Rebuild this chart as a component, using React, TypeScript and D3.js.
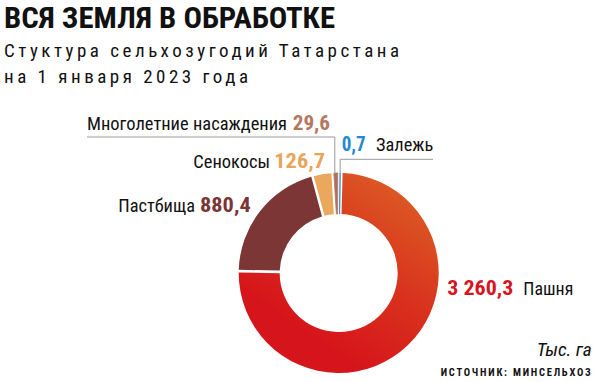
import React from "react";
import * as d3 from "d3";

const categories = ["Пашня", "Пастбища", "Сенокосы", "Многолетние насаждения", "Залежь"];
const values = [3260.3, 880.4, 126.7, 29.6, 0.7];
const valueLabels = ["3 260,3", "880,4", "126,7", "29,6", "0,7"];
const colors = ["url(#arableGrad)", "#7d3636", "#e9a85c", "#b0705a", "#2b8fd6"];
const labelColors = ["#d7141e", "#7b3534", "#e8a55a", "#b5775e", "#2589d2"];

const title = "ВСЯ ЗЕМЛЯ В ОБРАБОТКЕ";
const subtitle1 = "Стуктура сельхозугодий Татарстана";
const subtitle2 = "на 1 января 2023 года";
const unitLabel = "Тыс. га";
const sourceLabel = "ИСТОЧНИК: МИНСЕЛЬХОЗ";

const W = 595;
const H = 382;
const cx = 338.7;
const cy = 273;
const rOuter = 100;
const rInner = 59;
const FONT = "'Liberation Sans Narrow', 'Roboto Condensed', 'DejaVu Sans Condensed', 'Liberation Sans', sans-serif";

type LabelPos = { nameX: number; nameW: number; numX: number; numW: number; y: number };
const labelPos: LabelPos[] = [
  { numX: 447.3, numW: 66, nameX: 523.3, nameW: 50, y: 295 },
  { nameX: 118.3, nameW: 76.7, numX: 200, numW: 50.7, y: 211.7 },
  { nameX: 193.3, nameW: 76.7, numX: 274.3, numW: 50.7, y: 168.3 },
  { nameX: 87, nameW: 200, numX: 292.7, numW: 37.3, y: 130 },
  { numX: 341.7, numW: 24, nameX: 376, nameW: 57.3, y: 150.7 },
];

export default function App() {
  const startDeg = 1.5;
  const pie = d3
    .pie<number>()
    .sort(null)
    .value((d) => d)
    .startAngle((startDeg * Math.PI) / 180)
    .endAngle(((360 + startDeg) * Math.PI) / 180)
    .padAngle(0.022);
  const arcs = pie(values);
  const arcGen = d3.arc<d3.PieArcDatum<number>>().innerRadius(rInner).outerRadius(rOuter);

  const midAngle = (a: d3.PieArcDatum<number>) => (a.startAngle + a.endAngle) / 2;
  const outerPt = (a: d3.PieArcDatum<number>) => {
    const m = midAngle(a);
    return [cx + rOuter * Math.sin(m), cy - rOuter * Math.cos(m)];
  };

  const mnPt = outerPt(arcs[3]);
  const zlPt = outerPt(arcs[4]);

  return (
    <svg width={W} height={H} style={{ position: "absolute", left: 0, top: 0, background: "#fff" }}>
      <defs>
        <linearGradient id="arableGrad" x1="0.75" y1="0" x2="0.25" y2="0.75">
          <stop offset="0" stopColor="#dc5b24" />
          <stop offset="0.55" stopColor="#d8301d" />
          <stop offset="1" stopColor="#d6141b" />
        </linearGradient>
      </defs>

      <text x={4} y={28.3} fontFamily={FONT} fontWeight="bold" fontSize={29.5} fill="#111"
        textLength={331} lengthAdjust="spacingAndGlyphs">{title}</text>
      <text x={4} y={57} fontFamily={FONT} fontSize={19} fill="#111"
        textLength={395} lengthAdjust="spacing">{subtitle1}</text>
      <text x={4} y={83} fontFamily={FONT} fontSize={19} fill="#111"
        textLength={244} lengthAdjust="spacing">{subtitle2}</text>

      <g transform={`translate(${cx},${cy})`}>
        {arcs.map((a, i) => (
          <path key={categories[i]} d={arcGen(a) || ""} fill={colors[i]}
            stroke={i >= 3 ? labelColors[i] : "none"} strokeWidth={i >= 3 ? 0.8 : 0} />
        ))}
      </g>

      <polyline points={`87,137 ${mnPt[0] - 1},137 ${mnPt[0] - 1},${mnPt[1] + 1}`} fill="none" stroke="#9a9a9a" strokeWidth={1} />
      <polyline points={`433,159.3 ${zlPt[0]},159.3 ${zlPt[0]},${zlPt[1] + 1}`} fill="none" stroke="#9a9a9a" strokeWidth={1} />

      {labelPos.map((p, i) => (
        <g key={categories[i]}>
          <text x={p.nameX} y={p.y} fontFamily={FONT} fontSize={18.5} fill="#111"
            textLength={p.nameW} lengthAdjust="spacingAndGlyphs">{categories[i]}</text>
          <text x={p.numX} y={p.y} fontFamily={FONT} fontWeight="bold" fontSize={20.5} fill={labelColors[i]}
            textLength={p.numW} lengthAdjust="spacingAndGlyphs">{valueLabels[i]}</text>
        </g>
      ))}

      <text x={536.7} y={356} fontFamily={FONT} fontStyle="italic" fontSize={18} fill="#111"
        textLength={55} lengthAdjust="spacingAndGlyphs">{unitLabel}</text>
      <text x={440.7} y={376} fontFamily={FONT} fontWeight="bold" fontSize={10.5} fill="#111"
        textLength={150} lengthAdjust="spacing">{sourceLabel}</text>
    </svg>
  );
}
